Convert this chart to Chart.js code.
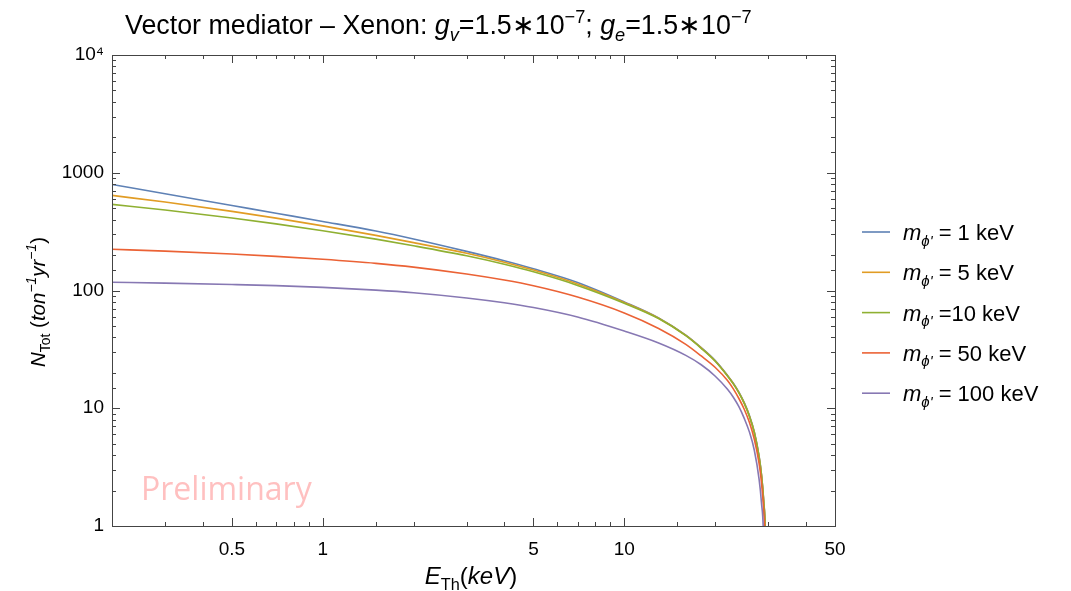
<!DOCTYPE html>
<html>
<head>
<meta charset="utf-8">
<script src="https://cdn.jsdelivr.net/npm/chart.js@4"></script>
<style>
  html, body { margin: 0; padding: 0; background: #fff; }
  #wrap { width: 1071px; height: 591px; position: relative; }
</style>
</head>
<body>
<div id="wrap"><canvas id="rateChart"></canvas></div>
<script>
// threshold energies (keV) and total rates (ton^-1 yr^-1)
const energies = [0.2, 0.3, 0.5, 0.7, 1, 1.5, 2, 3, 4, 5, 7, 10, 13, 16, 18, 20, 22, 23, 24, 25, 26, 27, 28, 28.5, 29, 29.4, 29.75];
const rate1keV   = [796, 663, 527, 453, 386, 320, 274, 215, 179, 153, 117, 80, 58.5, 41.8, 32.7, 25.5, 19.0, 16.3, 13.7, 11.15, 8.7, 6.3, 3.92, 2.78, 1.65, 0.77, 0.05];
const rate5keV   = [642, 564, 470, 412, 354, 294, 255, 207, 174, 149, 113.5, 79, 58.1, 41.5, 32.5, 25.3, 18.9, 16.2, 13.6, 11.05, 8.6, 6.25, 3.88, 2.75, 1.63, 0.76, 0.05];
const rate10keV  = [539, 483, 413, 368, 322, 273, 240, 197, 167, 144, 110.5, 78, 57.8, 41.3, 32.3, 25.2, 18.8, 16.1, 13.5, 11.0, 8.55, 6.19, 3.85, 2.73, 1.61, 0.75, 0.05];
const rate50keV  = [224, 216, 204, 195, 184, 170, 158, 138, 122.6, 109.7, 88, 64.5, 47.6, 34.9, 27.8, 22.3, 17.2, 14.6, 12.1, 9.8, 7.6, 5.45, 3.4, 2.38, 1.37, 0.59, 0.05];
const rate100keV = [117.5, 115.6, 112.4, 109.9, 106.2, 100.7, 95.7, 86.4, 78.6, 71.6, 59.5, 45.2, 35.8, 28.1, 23.4, 18.8, 14.5, 12.4, 10.3, 8.2, 6.3, 4.4, 2.5, 1.6, 0.72, 0.05, 0.02];

const legendTexts = [' = 1 keV', ' = 5 keV', ' =10 keV', ' = 50 keV', ' = 100 keV'];
const seriesColors = ['#5E81B5', '#E19C24', '#8FB032', '#EB6235', '#8778B3'];
const xTickLabels = [0.5, 1, 5, 10, 50];
const yTickLabels = {1: '1', 10: '10', 100: '100', 1000: '1000', 10000: '10\u2074'};

const allRates = [rate1keV, rate5keV, rate10keV, rate50keV, rate100keV];
const FONT = "'Liberation Sans', Arial, sans-serif";

function isLabeledX(v) {
  return xTickLabels.some(t => Math.abs(t - v) < 1e-9);
}

// draws a run of text pieces (italic / sub / sup) starting at x
function drawRich(ctx, x, y, segs, base, align) {
  const fontOf = s => {
    const sz = (s.sub || s.sup) ? base * 0.68 : base;
    return (s.it ? 'italic ' : '') + sz.toFixed(1) + 'px ' + FONT;
  };
  let total = 0;
  segs.forEach(s => { ctx.font = fontOf(s); total += ctx.measureText(s.t).width; });
  let cx = align === 'center' ? x - total / 2 : x;
  ctx.textAlign = 'left';
  ctx.textBaseline = 'alphabetic';
  segs.forEach(s => {
    ctx.font = fontOf(s);
    let dy = 0;
    if (s.sub) dy = base * 0.25;
    if (s.sup) dy = -base * 0.42;
    ctx.fillText(s.t, cx, y + dy);
    cx += ctx.measureText(s.t).width;
  });
}

const decorations = {
  id: 'decorations',
  beforeDatasetsDraw(chart) {
    const ctx = chart.ctx;
    ctx.save();
    ctx.fillStyle = 'rgba(255, 150, 150, 0.6)';
    ctx.font = "32px 'Open Sans', sans-serif";
    ctx.textBaseline = 'middle';
    ctx.textAlign = 'left';
    ctx.fillText('Preliminary', 141, 491);
    ctx.restore();
  },
  afterDraw(chart) {
    const ctx = chart.ctx;
    const a = chart.chartArea;
    const xs = chart.scales.x, ys = chart.scales.y;
    ctx.save();
    // frame
    ctx.strokeStyle = '#444';
    ctx.lineWidth = 1;
    ctx.strokeRect(a.left + 0.5, a.top + 0.5, a.right - a.left, a.bottom - a.top);
    // inward ticks on all four sides
    ctx.beginPath();
    xs.ticks.forEach(t => {
      const px = Math.round(xs.getPixelForValue(t.value)) + 0.5;
      const len = isLabeledX(t.value) ? 8 : 4;
      ctx.moveTo(px, a.bottom); ctx.lineTo(px, a.bottom - len);
      ctx.moveTo(px, a.top); ctx.lineTo(px, a.top + len);
    });
    ys.ticks.forEach(t => {
      const py = Math.round(ys.getPixelForValue(t.value)) + 0.5;
      const len = yTickLabels[t.value] ? 8 : 4;
      ctx.moveTo(a.left, py); ctx.lineTo(a.left + len, py);
      ctx.moveTo(a.right, py); ctx.lineTo(a.right - len, py);
    });
    ctx.stroke();

    ctx.fillStyle = '#000';
    // title
    drawRich(ctx, 125, 34, [
      {t: 'Vector mediator \u2013 Xenon: '}, {t: 'g', it: true}, {t: 'v', it: true, sub: true},
      {t: '=1.5\u221710'}, {t: '\u22127', sup: true}, {t: '; '},
      {t: 'g', it: true}, {t: 'e', it: true, sub: true},
      {t: '=1.5\u221710'}, {t: '\u22127', sup: true}
    ], 26.8, 'left');

    // x axis title
    drawRich(ctx, 471, 584, [
      {t: 'E', it: true}, {t: 'Th', sub: true}, {t: '('}, {t: 'keV', it: true}, {t: ')'}
    ], 24, 'center');

    // y axis title
    ctx.save();
    ctx.translate(45, 302);
    ctx.rotate(-Math.PI / 2);
    drawRich(ctx, 0, 0, [
      {t: 'N', it: true}, {t: 'Tot', sub: true}, {t: ' ('}, {t: 'ton', it: true},
      {t: '\u22121', it: true, sup: true}, {t: 'yr', it: true}, {t: '\u22121', it: true, sup: true}, {t: ')'}
    ], 20.5, 'center');
    ctx.restore();

    // legend
    legendTexts.forEach((txt, i) => {
      const y = 232 + i * 40.3;
      ctx.strokeStyle = seriesColors[i];
      ctx.lineWidth = 1.6;
      ctx.beginPath();
      ctx.moveTo(862, y); ctx.lineTo(890, y);
      ctx.stroke();
      ctx.fillStyle = '#000';
      drawRich(ctx, 903, y + 8, [
        {t: 'm', it: true}, {t: '\u03D5\'', it: true, sub: true}, {t: txt}
      ], 22, 'left');
    });
    ctx.restore();
  }
};

const ctx = document.getElementById('rateChart').getContext('2d');

const rateChart = new Chart(ctx, {
  type: 'line',
  data: {
    datasets: allRates.map((rates, i) => ({
      label: legendTexts[i],
      data: energies.map((e, j) => ({x: e, y: rates[j]})),
      borderColor: seriesColors[i],
      borderWidth: 1.6,
      pointRadius: 0,
      fill: false,
      order: allRates.length - i,   // later series drawn on top
      cubicInterpolationMode: 'monotone'
    }))
  },
  options: {
    responsive: true,
    maintainAspectRatio: false,
    animation: false,
    layout: {
      padding: { left: 0, right: 236, top: 55, bottom: 0 }
    },
    plugins: {
      legend: { display: false },
      tooltip: { enabled: false }
    },
    scales: {
      x: {
        type: 'logarithmic',
        min: 0.2,
        max: 50,
        grid: { display: false, drawTicks: false },
        border: { display: false },
        ticks: {
          autoSkip: false,
          maxRotation: 0,
          padding: 12,
          color: '#000',
          font: { family: FONT, size: 19 },
          callback: v => isLabeledX(v) ? String(v) : ''
        },
        afterFit: s => { s.height = 65; s.paddingLeft = 0; s.paddingRight = 0; }
      },
      y: {
        type: 'logarithmic',
        min: 1,
        max: 10000,
        grid: { display: false, drawTicks: false },
        border: { display: false },
        ticks: {
          autoSkip: false,
          padding: 8,
          color: '#000',
          font: { family: FONT, size: 19 },
          callback: v => yTickLabels[v] || ''
        },
        afterFit: s => { s.width = 112; s.paddingTop = 0; s.paddingBottom = 0; }
      }
    }
  },
  plugins: [decorations]
});
</script>
</body>
</html>
